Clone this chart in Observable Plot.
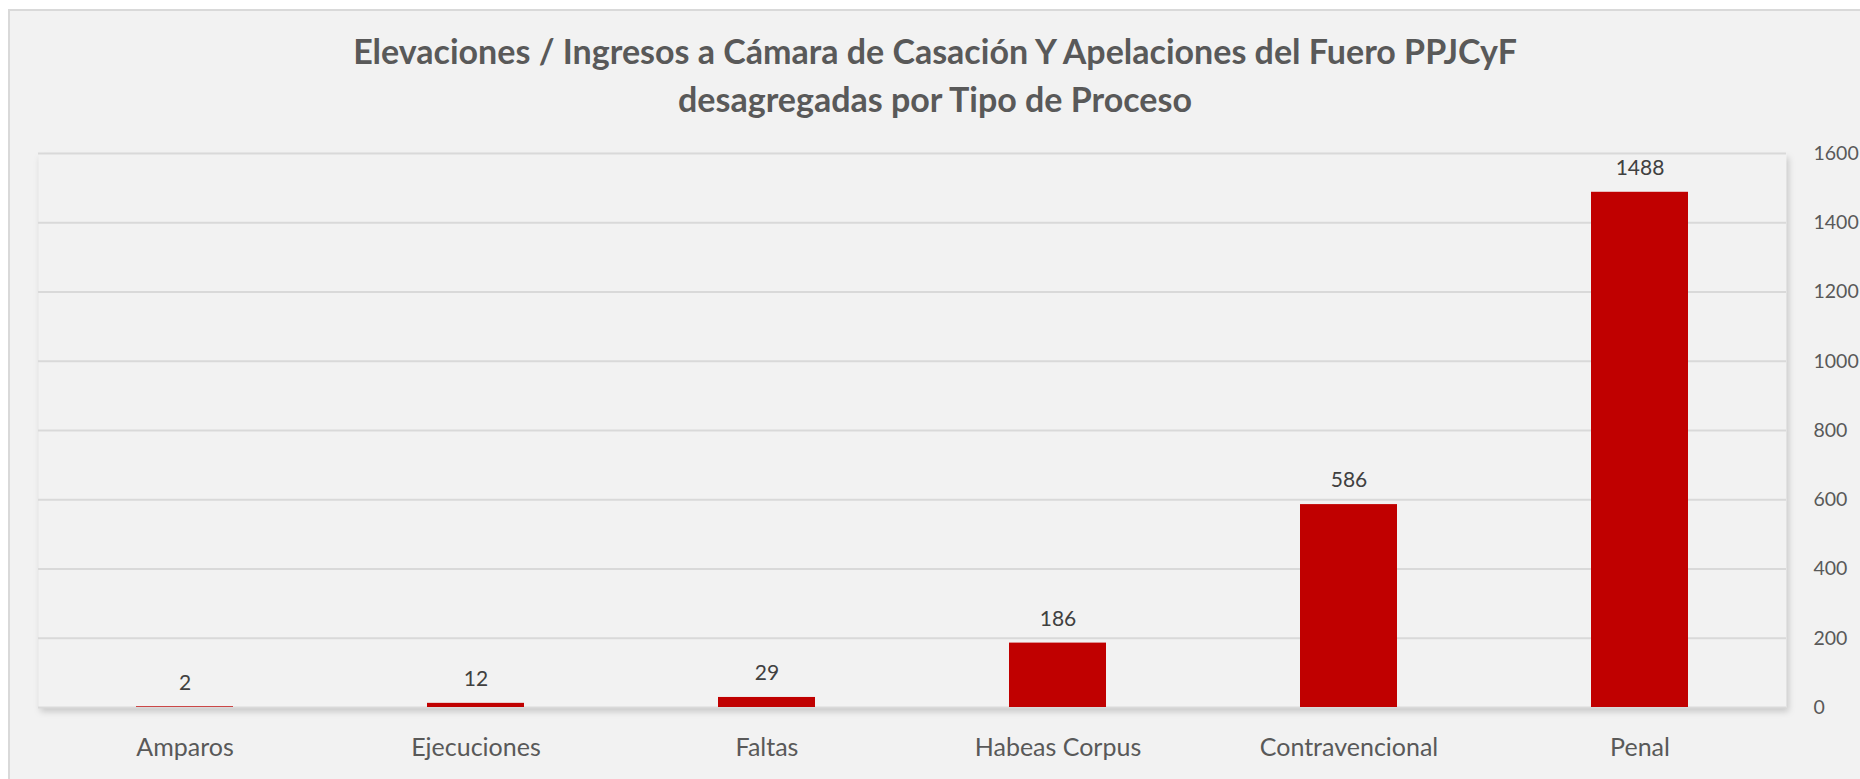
<!DOCTYPE html>
<html>
<head>
<meta charset="utf-8">
<script src="https://cdn.jsdelivr.net/npm/d3@7"></script>
<script src="https://cdn.jsdelivr.net/npm/@observablehq/plot@0.6"></script>
<style>
  html, body { margin: 0; padding: 0; background: #ffffff; }
  #frame {
    position: absolute; left: 8px; top: 9px; width: 1852px; height: 771px;
    box-sizing: border-box; background: #f2f2f2;
    border-left: 2px solid #d9d9d9; border-top: 2px solid #d9d9d9;
    font-family: Lato, "Open Sans", sans-serif; overflow: hidden;
  }
  #title {
    height: 128px; box-sizing: border-box; padding-top: 16px;
    text-align: center; color: #595959; font-weight: bold;
    font-size: 34px; line-height: 48px;
  }
  #chart svg { display: block; }
</style>
</head>
<body>
<div id="frame">
  <div id="title">Elevaciones / Ingresos a Cámara de Casación Y Apelaciones del Fuero PPJCyF<br>desagregadas por Tipo de Proceso</div>
  <div id="chart"></div>
</div>
<script>
const categories = ["Amparos", "Ejecuciones", "Faltas", "Habeas Corpus", "Contravencional", "Penal"];
const values = [2, 12, 29, 186, 586, 1488];
const yTicks = [0, 200, 400, 600, 800, 1000, 1200, 1400, 1600];

const data = categories.map((c, i) => ({category: c, value: values[i]}));

const plot = Plot.plot({
  width: 1850,
  height: 640,
  marginTop: 14,
  marginBottom: 72,
  marginLeft: 28,
  marginRight: 74,
  style: {background: "transparent", fontFamily: "Lato, 'Open Sans', sans-serif", color: "#595959"},
  x: {domain: categories, paddingInner: 0.665, paddingOuter: 0.3325, label: null},
  y: {domain: [0, 1600], label: null},
  marks: [
    Plot.frame({fill: "#f2f2f2", stroke: null}),
    Plot.gridY(yTicks, {stroke: "#d9d9d9", strokeOpacity: 1, strokeWidth: 2}),
    Plot.barY(data, {x: "category", y: "value", fill: "#c00000"}),
    Plot.text(data, {x: "category", y: "value", text: d => String(d.value), dy: -24, fontSize: 21, fill: "#404040"}),
    Plot.axisY(yTicks, {anchor: "right", tickSize: 0, tickPadding: 27, fontSize: 19.5, fill: "#595959", textAnchor: "start", tickFormat: d => String(d)}),
    Plot.axisX({tickSize: 0, tickPadding: 31, fontSize: 25, fill: "#595959"})
  ]
});
// subtle shadow on the plot area, like the reference
const fr = plot.querySelector("rect");
if (fr) fr.style.filter = "drop-shadow(2px 4px 3px rgba(0,0,0,0.18))";
document.getElementById("chart").appendChild(plot);
</script>
</body>
</html>
